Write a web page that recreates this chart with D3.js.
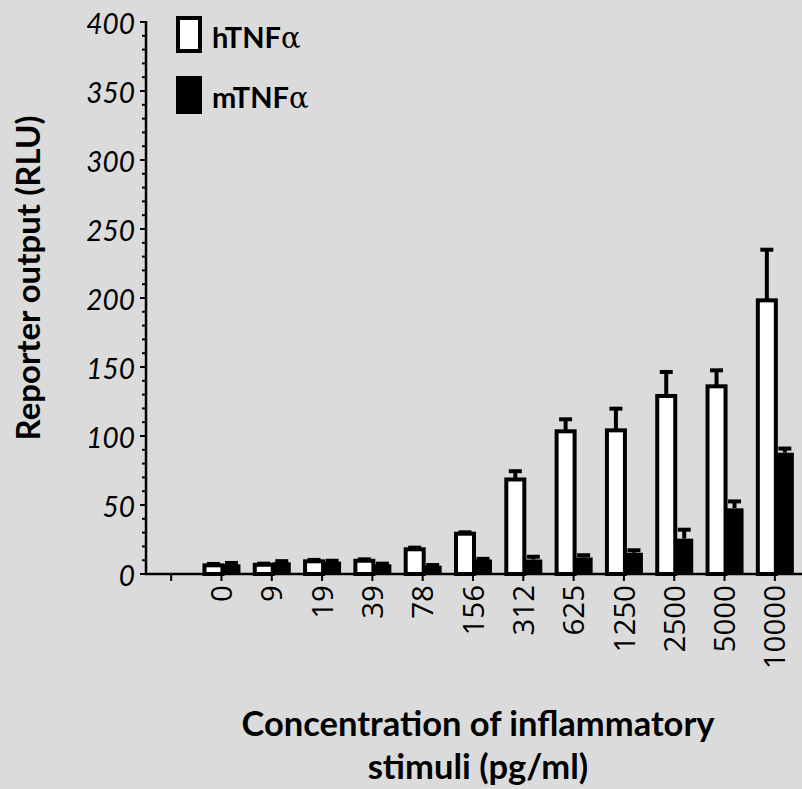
<!DOCTYPE html>
<meta charset="utf-8">
<title>Reporter output</title>
<style>
body {
  margin: 0;
  background: #dbdbdb;
}
svg {
  display: block;
  background: #dbdbdb;
}
.ytick text {
  font-family: Lato, "Open Sans", sans-serif;
  font-style: italic;
  font-size: 28px;
}
.xtick text {
  font-family: "Open Sans", sans-serif;
  font-size: 29.5px;
}
.title {
  font-family: Lato, "Open Sans", sans-serif;
  font-weight: bold;
}
</style>
<body>
<script src="https://cdn.jsdelivr.net/npm/d3@7"></script>
<script>
'use strict';

// concentrations (pg/ml); first slot is the empty one left of "0"
const concentrations = ["", "0", "9", "19", "39", "78", "156", "312", "625", "1250", "2500", "5000", "10000"];
const seriesNames = ["hTNF", "mTNF"];
const hValues = [null, 6.3, 6.7, 9.2, 9.6, 17.9, 29.2, 68.5, 103.4, 104.1, 129, 136, 198.3];
const hErrors = [null, 1, 0.8, 1, 1, 1.2, 1, 6, 8.7, 15.7, 17.4, 11.6, 36.7];
const mValues = [null, 7, 8.5, 9, 7, 6, 10.5, 10.5, 12, 15.4, 25.6, 47.6, 87.9];
const mErrors = [null, 1, 0.8, 0.6, 0.5, 0.5, 0.5, 2, 1.6, 1.8, 6.5, 5, 3];
const yTicks = [0, 50, 100, 150, 200, 250, 300, 350, 400];

const width = 802, height = 789;

const svg = d3.select("body").append("svg")
    .attr("width", width)
    .attr("height", height);

const y = d3.scaleLinear().domain([0, 400]).range([574, 22]);
const x = d3.scaleBand().domain(concentrations).range([146, 800]);
const x1 = d3.scaleBand().domain(seriesNames).range([-17, 19]);

// y axis with minor ticks every 10
const yAxis = svg.append("g")
    .attr("transform", "translate(146,0)");
yAxis.selectAll(".minor")
    .data(d3.range(0, 401, 10).filter((d) => d % 50 !== 0))
  .enter().append("line")
    .attr("x1", -4).attr("x2", 0)
    .attr("y1", (d) => y(d)).attr("y2", (d) => y(d))
    .attr("stroke", "#000").attr("stroke-width", 2);
const yt = yAxis.selectAll(".ytick")
    .data(yTicks)
  .enter().append("g")
    .attr("class", "ytick")
    .attr("transform", (d) => "translate(0," + y(d) + ")");
yt.append("line").attr("x1", -6).attr("x2", 0)
    .attr("stroke", "#000").attr("stroke-width", 2);
yt.append("text")
    .attr("x", -11)
    .attr("dy", "0.42em")
    .attr("text-anchor", "end")
    .text((d) => d);
yAxis.append("line")
    .attr("y1", y(400) - 1).attr("y2", y(0) + 1)
    .attr("stroke", "#000").attr("stroke-width", 2.5);

// x axis
const xAxis = svg.append("g")
    .attr("transform", "translate(0," + y(0) + ")");
const xt = xAxis.selectAll(".xtick")
    .data(concentrations)
  .enter().append("g")
    .attr("class", "xtick")
    .attr("transform", (d) => "translate(" + (x(d) + x.bandwidth() / 2) + ",0)");
xt.append("line").attr("y1", 0).attr("y2", 7)
    .attr("stroke", "#000").attr("stroke-width", 2);
xt.append("text")
    .attr("transform", "rotate(-90)")
    .attr("x", -11)
    .attr("dy", "0.36em")
    .attr("text-anchor", "end")
    .text((d) => d);

// bars
const rows = concentrations.map((c, i) => ({
  c: c,
  h: hValues[i], he: hErrors[i],
  m: mValues[i], me: mErrors[i]
})).filter((d) => d.h !== null);

const groups = svg.append("g").selectAll(".grp")
    .data(rows)
  .enter().append("g")
    .attr("transform", (d) => "translate(" + (x(d.c) + x.bandwidth() / 2) + ",0)");

function errBar(sel, cx, v, e) {
  sel.append("line")
      .attr("x1", cx).attr("x2", cx)
      .attr("y1", y(v)).attr("y2", y(v + e))
      .attr("stroke", "#000").attr("stroke-width", 4);
  sel.append("line")
      .attr("x1", cx - 6.5).attr("x2", cx + 6.5)
      .attr("y1", y(v + e)).attr("y2", y(v + e))
      .attr("stroke", "#000").attr("stroke-width", 4);
}

groups.each(function(d) {
  const g = d3.select(this);
  const hx = x1("hTNF"), mx = x1("mTNF"), bw = x1.bandwidth();
  errBar(g, hx + bw / 2, d.h, d.he);
  g.append("rect")
      .attr("x", hx).attr("width", bw)
      .attr("y", y(d.h)).attr("height", y(0) - y(d.h))
      .attr("fill", "#fff").attr("stroke", "#000").attr("stroke-width", 4);
  errBar(g, mx + bw / 2, d.m, d.me);
  g.append("rect")
      .attr("x", mx).attr("width", bw)
      .attr("y", y(d.m)).attr("height", y(0) - y(d.m))
      .attr("fill", "#000");
});

// x axis line drawn over the bar bottoms
svg.append("line")
    .attr("x1", 145).attr("x2", width)
    .attr("y1", y(0)).attr("y2", y(0))
    .attr("stroke", "#000").attr("stroke-width", 2.5);

// legend
const legend = svg.append("g");
legend.append("rect")
    .attr("x", 178).attr("y", 18).attr("width", 22).attr("height", 33)
    .attr("fill", "#fff").attr("stroke", "#000").attr("stroke-width", 4);
legend.append("rect")
    .attr("x", 176).attr("y", 76).attr("width", 26).attr("height", 38)
    .attr("fill", "#000");
const legendLabels = ["hTNF", "mTNF"];
legend.selectAll(".lt")
    .data(legendLabels)
  .enter().append("text")
    .attr("class", "title")
    .attr("x", 212)
    .attr("y", (d, i) => 48 + i * 60)
    .style("font-size", "29px")
    .text((d) => d)
  .append("tspan")
    .style("font-weight", "normal")
    .style("font-family", "'DejaVu Serif', serif")
    .style("font-size", "29px")
    .text("\u03b1");

// axis titles
svg.append("text")
    .attr("class", "title")
    .attr("transform", "translate(40,278) rotate(-90)")
    .attr("text-anchor", "middle")
    .style("font-size", "33px")
    .text("Reporter output (RLU)");
svg.append("text")
    .attr("class", "title")
    .attr("x", 478).attr("y", 736)
    .attr("text-anchor", "middle")
    .style("font-size", "34.5px")
    .text("Concentration of inflammatory");
svg.append("text")
    .attr("class", "title")
    .attr("x", 478).attr("y", 779)
    .attr("text-anchor", "middle")
    .style("font-size", "34.5px")
    .text("stimuli (pg/ml)");
</script>
</body>
